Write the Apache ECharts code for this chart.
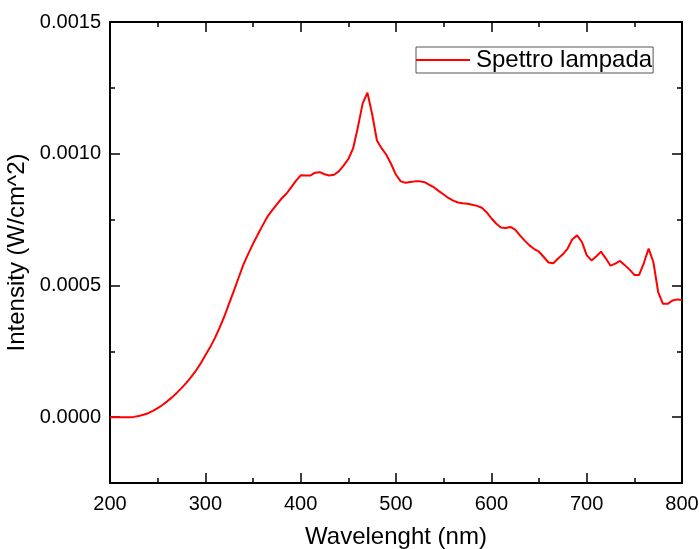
<!DOCTYPE html>
<html>
<head>
<meta charset="utf-8">
<script src="https://cdn.jsdelivr.net/npm/echarts@6/dist/echarts.min.js"></script>
<style>html,body{margin:0;padding:0;background:#fff}#c{width:699px;height:549px}</style>
</head>
<body>
<div id="c"></div>
<script>
const wavelength = [200,205,210,215,220,225,230,235,240,245,250,255,260,265,270,275,280,285,290,295,300,305,310,315,320,325,330,335,340,345,350,355,360,365,370,375,380,385,390,395,400,405,410,415,420,425,430,435,440,445,450,455,460,465,470,475,480,485,490,495,500,505,510,515,520,525,530,535,540,545,550,555,560,565,570,575,580,585,590,595,600,605,610,615,620,625,630,635,640,645,650,655,660,665,670,675,680,685,690,695,700,705,710,715,720,725,730,735,740,745,750,755,760,765,770,775,780,785,790,795,800];
const intensity = [0,0,0,0,0,0.000001,0.000004,0.000009,0.000015,0.000024,0.000034,0.000046,0.00006,0.000075,0.000092,0.00011,0.00013,0.000152,0.000176,0.000203,0.000235,0.000265,0.0003,0.00034,0.000383,0.000432,0.00048,0.00053,0.00058,0.00062,0.000658,0.000693,0.000727,0.00076,0.000785,0.000808,0.00083,0.000848,0.000872,0.000897,0.000918,0.000917,0.000917,0.000928,0.00093,0.000922,0.000917,0.00092,0.000933,0.000955,0.00098,0.00102,0.0011,0.00119,0.001232,0.00115,0.00105,0.00102,0.000995,0.00096,0.00092,0.000895,0.00089,0.000893,0.000895,0.000895,0.000892,0.000882,0.000872,0.000858,0.000845,0.000832,0.000822,0.000815,0.000812,0.00081,0.000806,0.000802,0.000795,0.000778,0.000755,0.000735,0.00072,0.000718,0.000722,0.000712,0.00069,0.00067,0.000652,0.000638,0.000628,0.000608,0.000587,0.000584,0.000602,0.000618,0.00064,0.000675,0.00069,0.000665,0.000615,0.000595,0.00061,0.000628,0.000603,0.000575,0.000583,0.000593,0.000577,0.00056,0.00054,0.00054,0.000585,0.00064,0.000588,0.000475,0.00043,0.00043,0.000443,0.000447,0.000445];
const yMajorTicks = [0, 0.0005, 0.001, 0.0015];
const yMinorTicks = [0.00025, 0.00075, 0.00125];

const FONT = '"Liberation Sans", Arial, sans-serif';
const lineStyle = {color:'#000', width:2};
const yRange = {min:-0.00025, max:0.0015};
const fmtY = v => v.toFixed(4);

const chart = echarts.init(document.getElementById('c'), null, {renderer:'canvas'});
const pts = wavelength.map((w,i)=>[w,intensity[i]]);

const yBase = (pos, showLabel, ticks, len) => ({
  type:'value', position:pos, ...yRange,
  axisLine:{show:true, onZero:false, lineStyle},
  axisTick:{show:true, inside:true, length:len, customValues:ticks, lineStyle:{color:'#000', width:1.5}},
  axisLabel:{show:showLabel, customValues:yMajorTicks, formatter:fmtY, fontFamily:FONT, fontSize:20, color:'#000', margin:9},
  splitLine:{show:false}
});

chart.setOption({
  animation:false,
  backgroundColor:'#fff',
  grid:{left:110, right:17, top:22, bottom:66, containLabel:false, outerBoundsMode:'none'},
  legend:{
    show:true, left:416, top:47, orient:'vertical',
    itemWidth:54, itemHeight:2, itemGap:0,
    padding:[1,1,1,0],
    borderColor:'#555', borderWidth:1,
    textStyle:{fontFamily:FONT, fontSize:24, color:'#000', padding:[0,0,0,1]},
    data:[{name:'Spettro lampada', icon:'rect'}]
  },
  xAxis:[{
    type:'value', min:200, max:800, interval:100, position:'bottom',
    name:'Wavelenght (nm)', nameLocation:'middle', nameGap:42,
    nameTextStyle:{fontFamily:FONT, fontSize:24, color:'#000'},
    axisLine:{show:true, onZero:false, lineStyle},
    axisTick:{show:true, inside:true, length:10, lineStyle:{color:'#000', width:1.5}},
    minorTick:{show:true, splitNumber:2, length:5, lineStyle:{color:'#000', width:1.5}},
    axisLabel:{fontFamily:FONT, fontSize:20, color:'#000', margin:11},
    splitLine:{show:false}, minorSplitLine:{show:false}
  },{
    type:'value', min:200, max:800, interval:100, position:'top',
    axisLine:{show:true, onZero:false, lineStyle},
    axisTick:{show:true, inside:true, length:10, lineStyle:{color:'#000', width:1.5}},
    minorTick:{show:true, splitNumber:2, length:5, lineStyle:{color:'#000', width:1.5}},
    axisLabel:{show:false}, splitLine:{show:false}
  }],
  yAxis:[
    Object.assign(yBase('left', true, yMajorTicks, 10), {
      name:'Intensity (W/cm^2)', nameLocation:'middle', nameGap:76, nameRotate:90,
      nameTextStyle:{fontFamily:FONT, fontSize:24, color:'#000'}
    }),
    yBase('left', false, yMinorTicks, 5),
    yBase('right', false, yMajorTicks, 10),
    yBase('right', false, yMinorTicks, 5)
  ],
  series:[{
    name:'Spettro lampada', type:'line', data:pts, xAxisIndex:0, yAxisIndex:0,
    symbol:'none', showSymbol:false, smooth:false,
    lineStyle:{color:'#ff0000', width:2}, itemStyle:{color:'#ff0000'}
  }]
});
</script>
</body>
</html>
